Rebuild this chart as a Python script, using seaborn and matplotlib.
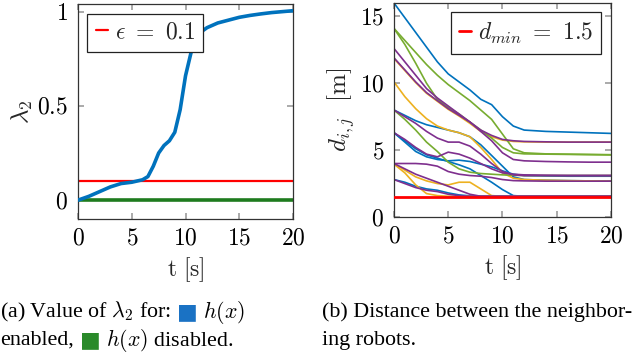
import seaborn as sns
import matplotlib.pyplot as plt
import pandas as pd

# datos
t_lam = [0, 1, 2, 3, 4, 5, 6, 6.5, 7, 7.5, 8, 8.5, 9, 9.5, 10, 10.5, 11, 11.5, 12, 13, 14, 15, 16, 17, 18, 19, 20]
lam_enabled = [0, 0.02, 0.045, 0.07, 0.088, 0.095, 0.108, 0.125, 0.18, 0.25, 0.29, 0.315, 0.36, 0.48, 0.66, 0.78,
               0.86, 0.895, 0.915, 0.94, 0.955, 0.97, 0.98, 0.988, 0.995, 1.0, 1.005]
t_disabled = [0, 20]
lam_disabled = [0, 0]
eps = 0.1

t_grid = [0, 1, 2, 3, 4, 5, 6, 7, 8, 9, 10, 11, 12, 14, 16, 18, 20]
blue_lines = [
    [16.0, 14.9, 13.8, 12.7, 11.6, 10.7, 10.1, 9.5, 8.8, 8.4, 7.5, 6.8, 6.5, 6.4, 6.35, 6.3, 6.25],
    [6.3, 5.6, 4.9, 4.5, 4.3, 4.2, 4.25, 4.15, 3.95, 3.75, 3.45, 3.2, 3.1, 3.07, 3.05, 3.05, 3.05],
    [6.3, 5.7, 5.1, 4.65, 4.4, 4.15, 3.9, 3.6, 3.1, 2.6, 2.05, 1.6, 1.55, 1.55, 1.55, 1.55, 1.55],
    [2.8, 2.6, 2.3, 2.1, 2.0, 1.8, 1.65, 1.58, 1.55, 1.55, 1.55, 1.55, 1.55, 1.55, 1.55, 1.55, 1.55],
    [8.0, 7.6, 7.2, 6.9, 6.7, 6.5, 6.3, 6.0, 5.4, 4.6, 3.8, 3.0, 2.8, 2.75, 2.72, 2.7, 2.7],
]
orange_lines = [
    [10.1, 9.0, 8.1, 7.35, 6.8, 6.5, 6.3, 6.0, 5.2, 4.3, 3.3, 2.9, 2.8, 2.75, 2.72, 2.7, 2.68],
    [11.85, 10.95, 10.05, 9.25, 8.65, 8.05, 7.55, 7.0, 6.4, 6.0, 5.75, 5.65, 5.62, 5.6, 5.6, 5.6, 5.6],
    [3.95, 3.3, 2.4, 1.75, 1.6, 1.55, 1.55, 1.55, 1.55, 1.55, 1.55, 1.55, 1.55, 1.55, 1.55, 1.55, 1.55],
    [4.0, 3.5, 3.0, 2.7, 2.5, 2.4, 2.6, 2.6, 2.1, 1.6, 1.55, 1.55, 1.55, 1.55, 1.55, 1.55, 1.55],
]
green_lines = [
    [14.1, 13.2, 12.3, 11.4, 10.6, 9.9, 9.3, 8.7, 8.0, 7.3, 6.2, 5.1, 4.8, 4.72, 4.7, 4.68, 4.66],
    [14.1, 12.9, 11.5, 10.0, 8.8, 8.2, 7.7, 7.1, 6.5, 5.9, 5.2, 4.8, 4.72, 4.7, 4.68, 4.66, 4.64],
    [8.0, 7.3, 6.5, 5.6, 4.9, 4.1, 3.6, 3.35, 3.25, 3.2, 3.15, 3.12, 3.1, 3.1, 3.1, 3.1, 3.1],
]
purple_lines = [
    [12.6, 11.6, 10.6, 9.6, 8.9, 8.3, 7.7, 7.1, 6.4, 5.7, 4.8, 4.3, 4.2, 4.15, 4.12, 4.1, 4.1],
    [11.9, 11.0, 10.1, 9.3, 8.7, 8.1, 7.6, 7.1, 6.5, 6.1, 5.8, 5.7, 5.65, 5.62, 5.6, 5.6, 5.6],
    [8.0, 7.5, 7.0, 6.4, 5.9, 5.6, 5.6, 5.3, 4.7, 4.0, 3.4, 3.15, 3.1, 3.1, 3.1, 3.1, 3.1],
    [4.0, 4.0, 4.0, 3.95, 3.8, 3.4, 3.2, 3.1, 3.05, 2.95, 2.8, 2.72, 2.7, 2.68, 2.68, 2.68, 2.68],
    [2.8, 2.5, 2.2, 2.0, 1.9, 1.7, 1.6, 1.55, 1.55, 1.55, 1.55, 1.55, 1.55, 1.55, 1.55, 1.55, 1.55],
    [4.0, 3.6, 3.2, 2.9, 2.6, 2.3, 2.0, 1.7, 1.55, 1.55, 1.55, 1.55, 1.55, 1.55, 1.55, 1.55, 1.55],
    [6.3, 5.8, 5.2, 4.7, 4.5, 4.85, 4.7, 4.4, 4.0, 3.6, 3.3, 3.2, 3.15, 3.12, 3.1, 3.1, 3.1],
]
d_min = 1.5

x_ticks = [0, 5, 10, 15, 20]
lam_ticks = [0, 0.5, 1]
d_ticks = [0, 5, 10, 15]

# estilo
sns.set_theme(style="white")
plt.rcParams['mathtext.fontset'] = 'cm'
plt.rcParams['font.family'] = ['Liberation Serif', 'DejaVu Sans']

c_blue, c_orange, c_green, c_purple = '#0072BD', '#EDB120', '#77AC30', '#7E2F8E'

fig = plt.figure(figsize=(6.4, 3.54), dpi=100)
ax1 = fig.add_axes([0.1219, 0.3814, 0.336, 0.607])
ax2 = fig.add_axes([0.6156, 0.387, 0.339, 0.6045])

# panel (a)
sns.lineplot(x=t_lam, y=lam_enabled, color=c_blue, lw=2.6, ax=ax1, zorder=3)
sns.lineplot(x=t_disabled, y=lam_disabled, color='#1e7b1e', lw=2.6, ax=ax1, zorder=2)
ax1.axhline(eps, color='red', lw=1.6, zorder=2, label=r'$\epsilon\ =\ 0.1$')
ax1.set_xlim(0, 20)
ax1.set_ylim(-0.1, 1.04)

# panel (b)
for color, group in [(c_blue, blue_lines), (c_orange, orange_lines), (c_green, green_lines), (c_purple, purple_lines)]:
    for vals in group:
        df = pd.DataFrame({'t': t_grid, 'd': vals})
        sns.lineplot(data=df, x='t', y='d', color=color, lw=1.2, ax=ax2)
ax2.axhline(d_min, color='red', lw=2.0, zorder=5, label=r'$d_{min}\ =\ 1.5$')
ax2.set_xlim(0, 20)
ax2.set_ylim(0, 16)

fs_tick = 17
for ax, yt in [(ax1, lam_ticks), (ax2, d_ticks)]:
    ax.set_xticks(x_ticks)
    ax.set_xticklabels([f'${v:g}$' for v in x_ticks])
    ax.set_yticks(yt)
    ax.set_yticklabels([f'${v:g}$' for v in yt])
    ax.tick_params(direction='in', length=4, color='#a0a0a0', labelsize=fs_tick, labelcolor='black',
                   top=True, right=True, bottom=True, left=True, pad=7)
    for s in ax.spines.values():
        s.set_color('#333333')
        s.set_linewidth(0.9)
    ax.set_xlabel(r'$\mathrm{t\ [s]}$', fontsize=fs_tick, labelpad=4)
    leg = ax.legend(loc='upper left' if ax is ax1 else 'upper right', fontsize=fs_tick, handlelength=0.5,
                    handletextpad=0.3, fancybox=False, framealpha=1, edgecolor='#222222',
                    borderpad=0.35, borderaxespad=0.4)
    leg.get_frame().set_linewidth(0.9)
    leg.set_zorder(10)

ax1.set_ylabel(r'$\lambda_2$', fontsize=18, labelpad=2)
ax2.set_ylabel(r'$d_{i,j}\ \ [\mathrm{m}]$', fontsize=18, labelpad=2)

# pie de figura, pieza a pieza
fs = 15.8
renderer = fig.canvas.get_renderer()


def put_line(parts, x0, y0):
    x = x0
    for txt, color, fam, gap in parts:
        t = fig.text(x / 640, 1 - y0 / 354, txt, fontsize=fs, va='center', color=color, family=fam)
        bb = t.get_window_extent(renderer)
        x = x + bb.width + gap


serif = ['Liberation Serif', 'DejaVu Sans']
sq = ['DejaVu Sans']
put_line([(r'(a) Value of $\lambda_2$ for:', 'black', serif, 6), ('■', '#1a72c4', sq, 5),
          (r'$h(x)$', 'black', serif, 0)], 0, 312)
put_line([('enabled,', 'black', serif, 6), ('■', '#2a8a2a', sq, 5),
          (r'$h(x)$ disabled.', 'black', serif, 0)], 0, 340)
put_line([('(b) Distance between the neighbor-', 'black', serif, 0)], 322, 312)
put_line([('ing robots.', 'black', serif, 0)], 322, 340)

fig.savefig('out.png', dpi=100)
